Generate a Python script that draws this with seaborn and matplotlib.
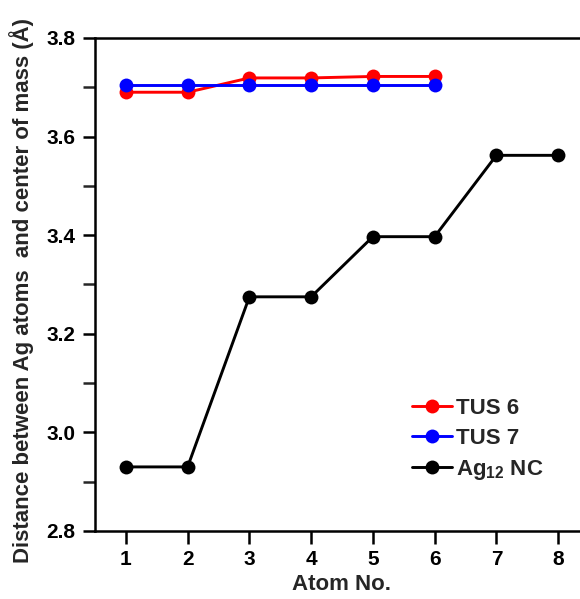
import matplotlib
matplotlib.use("Agg")
import matplotlib.pyplot as plt
import seaborn as sns
import pandas as pd
from matplotlib.ticker import MultipleLocator

atoms_tus = [1, 2, 3, 4, 5, 6]
tus6 = [3.690, 3.690, 3.719, 3.719, 3.722, 3.722]
tus7 = [3.704, 3.704, 3.704, 3.704, 3.704, 3.704]
atoms_ag = [1, 2, 3, 4, 5, 6, 7, 8]
ag12 = [2.930, 2.930, 3.275, 3.275, 3.397, 3.397, 3.562, 3.562]

sns.set_style("ticks")
plt.rcParams['font.family'] = ['Liberation Sans', 'DejaVu Sans']
plt.rcParams['font.weight'] = 'bold'
plt.rcParams['mathtext.fontset'] = 'custom'
plt.rcParams['mathtext.rm'] = 'Liberation Sans:bold'
plt.rcParams['mathtext.bf'] = 'Liberation Sans:bold'
plt.rcParams['mathtext.default'] = 'bf'

df = pd.concat([
    pd.DataFrame({"atom": atoms_tus, "d": tus6, "s": "TUS 6"}),
    pd.DataFrame({"atom": atoms_tus, "d": tus7, "s": "TUS 7"}),
    pd.DataFrame({"atom": atoms_ag, "d": ag12, "s": r"Ag$_{12}$ NC"}),
])

fig = plt.figure(figsize=(5.8, 5.99), dpi=100)
ax = fig.add_axes([95/580, 1 - 531/599, 494/580, 493/599])
palette = {"TUS 6": "#ff0000", "TUS 7": "#0000ff", r"Ag$_{12}$ NC": "#000000"}
sns.lineplot(data=df, x="atom", y="d", hue="s", palette=palette, marker="o",
             markersize=10, markeredgewidth=0, linewidth=2.1, ax=ax)

ax.set_xlim(0.5, 8.5)
ax.set_ylim(2.8, 3.8)
ax.set_xticks(range(1, 9))
ax.yaxis.set_major_locator(MultipleLocator(0.2))
ax.yaxis.set_minor_locator(MultipleLocator(0.1))
ax.set_yticklabels([f"{v:.1f}" for v in ax.get_yticks()])
for s in ["left", "top", "bottom"]:
    ax.spines[s].set_linewidth(1.8)
    ax.spines[s].set_color("black")
ax.spines["right"].set_visible(False)
ax.tick_params(axis="both", which="major", direction="out", length=9, width=1.8,
               labelsize=15, colors="black", pad=5)
ax.tick_params(axis="y", which="minor", direction="out", length=9, width=1.8)
for lab in ax.get_xticklabels() + ax.get_yticklabels():
    lab.set_fontweight("bold")
ax.set_xlabel("Atom No.", fontsize=16, fontweight="bold", labelpad=3)
ax.set_ylabel("Distance between Ag atoms  and center of mass (Å)", fontsize=16,
              fontweight="bold", labelpad=9)
ax.yaxis.label.set_y(0.488)
ax.grid(False)
leg = ax.legend(title=None, frameon=False, fontsize=16, loc="center left",
                bbox_to_anchor=(0.601, 0.185), handlelength=1.8, handletextpad=0.2,
                labelspacing=0.4)
for t in leg.get_texts():
    t.set_fontweight("bold")

fig.savefig("out.png", dpi=100)
